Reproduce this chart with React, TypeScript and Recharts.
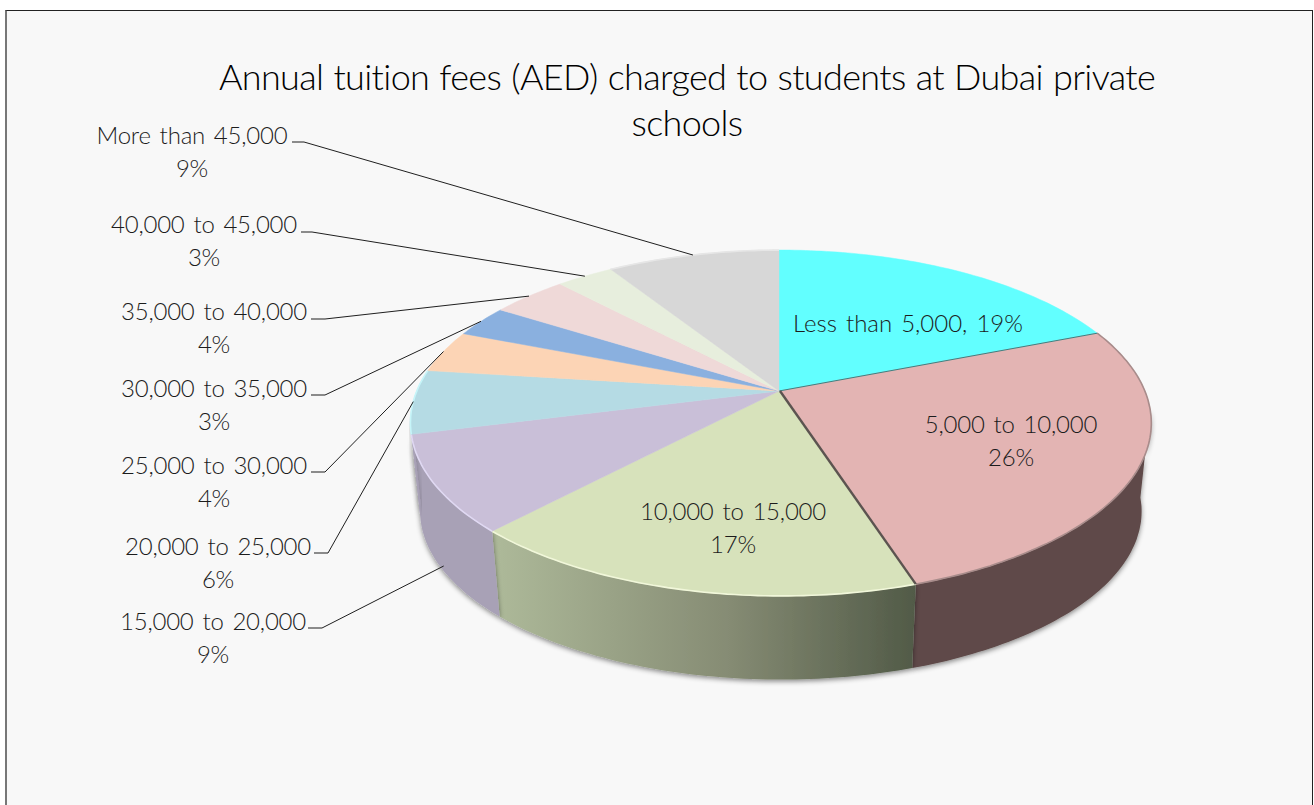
import React from 'react';
import { PieChart, Pie } from 'recharts';

const categories = [
  'Less than 5,000',
  '5,000 to 10,000',
  '10,000 to 15,000',
  '15,000 to 20,000',
  '20,000 to 25,000',
  '25,000 to 30,000',
  '30,000 to 35,000',
  '35,000 to 40,000',
  '40,000 to 45,000',
  'More than 45,000',
];
const shares = [19, 26, 17, 9, 6, 4, 3, 4, 3, 9];
const topColors = ['#62ffff', '#e3b4b3', '#d7e2bb', '#c9bfd8', '#b5dbe4', '#fcd4b5', '#8ab0df', '#efd9d8', '#e7eedd', '#d7d7d7'];
const sideColors = ['#4a9a9a', '#5e4a48', 'url(#oliveSide)', '#a8a1b6', '#a8a1b6', '#b9a089', '#6f8db3', '#b8a8a7', '#b5bbab', '#a8a8a8'];
const rimColors = ['none', '#a88c8b', '#f1f7da', '#e0d9f3', '#c6f5f9', 'none', 'none', 'none', 'none', '#e6e6e6'];
const titleLines = ['Annual tuition fees (AED) charged to students at Dubai private', 'schools'];

const pieData = categories.map((name, i) => ({ name, value: shares[i], fill: topColors[i] }));

// label placement, same order as categories
const labelSpots = [
  { x: 908, y: 332, line: false },
  { x: 1011, y: 433, line: false },
  { x: 733, y: 520, line: false },
  { x: 213, y: 630, line: true, from: 308, elbow: 322, rise: 628, onBase: true },
  { x: 218, y: 555, line: true, from: 314, elbow: 328, rise: 553 },
  { x: 214, y: 474, line: true, from: 311, elbow: 325, rise: 472 },
  { x: 214, y: 397, line: true, from: 311, elbow: 325, rise: 395 },
  { x: 214, y: 320, line: true, from: 311, elbow: 325, rise: 319 },
  { x: 204, y: 233, line: true, from: 301, elbow: 312, rise: 232 },
  { x: 192, y: 144, line: true, from: 292, elbow: 304, rise: 142 },
];

const FONT = 'Lato, "Open Sans", sans-serif';
const TILT = 167 / 364; // vertical squash of the disc
const PERSP = 0.185; // far edge shrinks, near edge grows
const LEAN = 0.005; // left side sits a touch further away than the right
const BASE_SCALE = 0.974;
const BASE_DROP = 89;

// angle in degrees (recharts convention) to a screen point on the tilted disc
function project(angle: number, cx: number, cy: number, r: number, scale = 1, drop = 0) {
  const rad = (angle * Math.PI) / 180;
  const u = Math.cos(rad);
  const v = Math.sin(rad);
  const w = 1 + PERSP * v - LEAN * u;
  return {
    x: cx + (r * scale * u) / w,
    y: cy + drop - (r * TILT * scale * v) / w,
  };
}

function arcPoints(from: number, to: number, cx: number, cy: number, r: number, scale = 1, drop = 0) {
  const steps = Math.max(2, Math.ceil(Math.abs(to - from)));
  const pts = [];
  for (let i = 0; i <= steps; i++) {
    pts.push(project(from + ((to - from) * i) / steps, cx, cy, r, scale, drop));
  }
  return pts;
}

const toPath = (pts: { x: number; y: number }[]) =>
  pts.map((p, i) => `${i === 0 ? 'M' : 'L'}${p.x.toFixed(1)},${p.y.toFixed(1)}`).join(' ');

// the wall of the disc, only the part facing the viewer
function SideShape(props: any) {
  const { cx, cy, outerRadius, startAngle, endAngle, name } = props;
  const i = categories.indexOf(name);
  const from = Math.min(startAngle, -6);
  const to = Math.max(endAngle, -172);
  if (from <= to) return <g />;
  const top = arcPoints(from, to, cx, cy, outerRadius);
  const bottom = arcPoints(to, from, cx, cy, outerRadius, BASE_SCALE, BASE_DROP);
  return <path d={`${toPath([...top, ...bottom])} Z`} fill={sideColors[i]} filter="url(#wallShadow)" />;
}

function TopShape(props: any) {
  const { cx, cy, outerRadius, startAngle, endAngle, fill, name } = props;
  const i = categories.indexOf(name);
  const rim = arcPoints(startAngle, endAngle, cx, cy, outerRadius);
  return (
    <g>
      <path d={`M${cx},${cy} ${toPath(rim).replace('M', 'L')} Z`} fill={fill} stroke={fill} strokeWidth={0.5} />
      {rimColors[i] !== 'none' && <path d={toPath(rim)} fill="none" stroke={rimColors[i]} strokeWidth={1.6} />}
      {i === 1 && <path d={toPath([{ x: cx, y: cy }, rim[0]])} stroke="#3d7f80" strokeWidth={1} />}
      {i === 2 && <path d={toPath([{ x: cx + 1, y: cy }, rim[0]])} stroke="#5c5450" strokeWidth={2.4} />}
    </g>
  );
}

function SliceLabel(props: any) {
  const { name, value } = props;
  const i = categories.indexOf(name);
  const spot = labelSpots[i];
  const style = { fontFamily: FONT, fontWeight: 300, fontSize: 24, fill: '#1c1c1c', wordSpacing: 2.5, letterSpacing: -0.2 };
  if (i === 0) {
    return (
      <text x={spot.x} y={spot.y} textAnchor="middle" style={{ ...style, letterSpacing: 0 }}>
        {`${name}, ${value}%`}
      </text>
    );
  }
  return (
    <text textAnchor="middle" style={style}>
      <tspan x={spot.x} y={spot.y}>{name}</tspan>
      <tspan x={spot.x} y={spot.y + 33}>{`${value}%`}</tspan>
    </text>
  );
}

function Leader(props: any) {
  const { cx, cy, outerRadius, midAngle, name } = props;
  const spot = labelSpots[categories.indexOf(name)];
  if (!spot.line) return <g />;
  const end = spot.onBase
    ? project(midAngle, cx, cy, outerRadius, BASE_SCALE, BASE_DROP - 5)
    : project(midAngle, cx, cy, outerRadius);
  return (
    <path
      d={`M${spot.from},${spot.rise} L${spot.elbow},${spot.rise} L${end.x.toFixed(1)},${end.y.toFixed(1)}`}
      fill="none"
      stroke="#1f1f1f"
      strokeWidth={1}
    />
  );
}

export default function App() {
  const titleStyle = { fontFamily: FONT, fontWeight: 300, fontSize: 36, fill: '#000', wordSpacing: 1, letterSpacing: -0.65 };
  return (
    <div style={{ position: 'absolute', left: 0, top: 0, width: 1314, height: 805, overflow: 'hidden', background: '#fff' }}>
      <div
        style={{
          position: 'absolute',
          left: 5,
          top: 10,
          width: 1305,
          height: 900,
          background: '#f8f8f8',
          borderTop: '1px solid #222',
          borderRight: '1px solid #222',
          borderLeft: '2px solid #777',
        }}
      />
      <div style={{ position: 'absolute', left: 0, top: 0 }}>
        <PieChart width={1314} height={805} margin={{ top: 0, right: 0, bottom: 0, left: 0 }}>
          <defs>
            <linearGradient id="oliveSide" gradientUnits="userSpaceOnUse" x1={496} y1={0} x2={916} y2={0}>
              <stop offset="0%" stopColor="#adb999" />
              <stop offset="55%" stopColor="#868c74" />
              <stop offset="100%" stopColor="#515a47" />
            </linearGradient>
            <filter id="wallShadow" x="-10%" y="-10%" width="120%" height="130%">
              <feDropShadow dx={0} dy={2} stdDeviation={2.5} floodColor="#000" floodOpacity={0.45} />
            </filter>
          </defs>
          <text x={687} y={90} textAnchor="middle" style={titleStyle}>
            {titleLines[0]}
          </text>
          <text x={687} y={136} textAnchor="middle" style={titleStyle}>
            {titleLines[1]}
          </text>
          <Pie
            data={pieData}
            dataKey="value"
            nameKey="name"
            cx={779}
            cy={391}
            outerRadius={364}
            startAngle={90}
            endAngle={-270}
            stroke="none"
            shape={SideShape}
            isAnimationActive={false}
          />
          <Pie
            data={pieData}
            dataKey="value"
            nameKey="name"
            cx={779}
            cy={391}
            outerRadius={364}
            startAngle={90}
            endAngle={-270}
            stroke="none"
            shape={TopShape}
            label={SliceLabel}
            labelLine={Leader}
            isAnimationActive={false}
          />
        </PieChart>
      </div>
    </div>
  );
}
